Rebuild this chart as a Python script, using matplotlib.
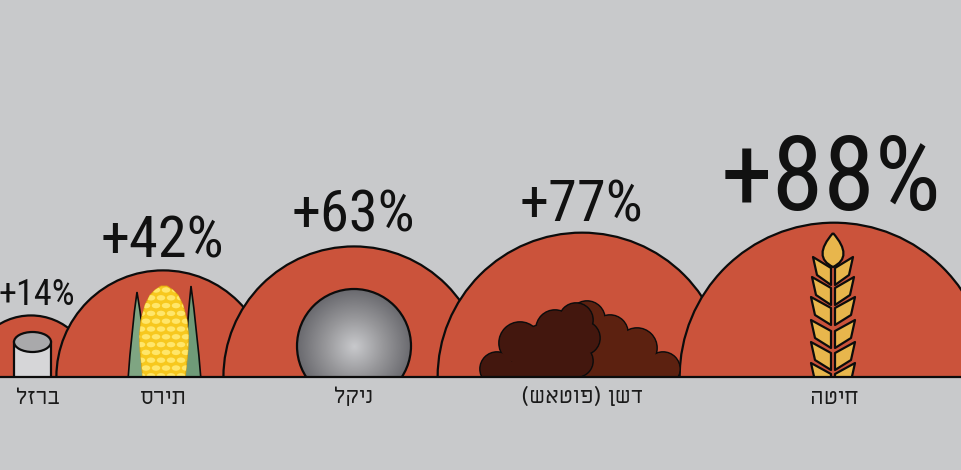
import numpy as np
import matplotlib
matplotlib.use('Agg')
import matplotlib.pyplot as plt
from matplotlib.colors import LinearSegmentedColormap
from matplotlib.patches import Circle, Ellipse, PathPatch, Polygon, Rectangle
from matplotlib.path import Path

plt.rcParams['font.family'] = ['Roboto Condensed', 'Liberation Sans', 'DejaVu Sans']

# data
names = ['ברזל', 'תירס', 'ניקל', 'דשן (פוטאש)', 'חיטה']
values = [14, 42, 63, 77, 88]
pct_labels = ['+14%', '+42%', '+63%', '+77%', '+88%']

BG = '#c8c9cb'
RED = '#cb533b'
K = '#0c0c0c'
BASE = 377
LW = 1.6

centers = [31, 163, 354, 582, 834]
pct_x = [37, 162, 353, 581, 831]
pct_y = [305, 258, 232, 222, 210]
pct_size = [26, 42, 42, 42, 75]
name_x = [38, 163, 354, 582, 834]

fig = plt.figure(figsize=(9.62, 4.7), dpi=100, facecolor=BG)
ax = fig.add_axes([0, 0, 1, 1])
ax.axis('off')

clip = Rectangle((0, 0), 962, BASE, transform=ax.transData)


def rtl(s):
    # matplotlib has no bidi, so flip to visual order
    s = s[::-1]
    return s.translate(str.maketrans('()', ')('))


def add(p):
    ax.add_patch(p)
    p.set_clip_path(clip)
    return p


# domes, area goes with the value
for v, cx in zip(values, centers):
    r = 16.45 * np.sqrt(v)
    add(Circle((cx, BASE), r, fc=RED, ec=K, lw=LW))

# iron
add(Rectangle((14, 342), 37, 40, fc='#d6d6d8', ec=K, lw=LW))
add(Ellipse((32.5, 342), 37, 20, fc='#a9a9ab', ec=K, lw=LW))


# corn
def leaf(tip, b1, b2, col):
    verts = [b1, ((b1[0] + tip[0]) / 2 - 1, 330), tip, ((b2[0] + tip[0]) / 2 + 1, 330), b2, b1]
    codes = [Path.MOVETO, Path.CURVE3, Path.CURVE3, Path.CURVE3, Path.CURVE3, Path.LINETO]
    add(PathPatch(Path(verts, codes), fc=col, ec=K, lw=1.2))


leaf((137, 292), (128, 380), (148, 380), '#7fa582')
leaf((191, 286), (184, 380), (201, 380), '#6f9a78')
cob_y = [286, 290, 295, 305, 320, 335, 350, 365, 380]
cob_w = [3, 9, 14, 19, 23, 24.5, 24, 22.5, 21]
cob_pts = [(164 - w, y) for w, y in zip(cob_w, cob_y)] + [(164 + w, y) for w, y in zip(cob_w[::-1], cob_y[::-1])]
cob_patch = add(Polygon(cob_pts, closed=True, fc='#f7c81e', ec='#e0a810', lw=0.6, zorder=2))
for row, y in enumerate(np.arange(290, 380, 7.8)):
    for x in np.arange(136 + (row % 2) * 5, 195, 10):
        k = add(Ellipse((x, y), 8.5, 5.4, fc='#ffe66a', ec='none', zorder=2))
        k.set_clip_path(cob_patch)

# nickel, radial shading
yy, xx = np.mgrid[289:404, 296:412]
rr = np.hypot(xx - 354, yy - 346) / 58
cm = LinearSegmentedColormap.from_list('nk', ['#c8c9cc', '#97979a', '#68686d'])
im = ax.imshow(rr, extent=(296, 412, 404, 289), cmap=cm, vmin=0, vmax=1, zorder=2, aspect='auto')
ax.set_xlim(0, 962)
ax.set_ylim(470, 0)
im.set_clip_path(Circle((354, 346), 57, transform=ax.transData))
add(Circle((354, 346), 57, fc='none', ec=K, lw=LW, zorder=3))


# potash, outline comes from drawing the circles twice
def pile(circles, box, col, z):
    for c in circles:
        add(Circle(c[:2], c[2], fc=col, ec=K, lw=1.3, zorder=z))
    add(Rectangle(box[:2], box[2], box[3], fc=col, ec='none', zorder=z))
    for c in circles:
        add(Circle(c[:2], c[2] - 0.6, fc=col, ec='none', zorder=z))


pile([(587, 319, 18), (610, 333, 18), (637, 348, 20), (663, 369, 17)], (585, 345, 70, 35), '#5c2110', 4)
pile([(497, 369, 17), (520, 343, 21), (555, 329, 19), (576, 320, 17), (583, 338, 17), (577, 361, 16), (545, 352, 28)],
     (490, 362, 90, 18), '#43170e', 4.1)


# wheat
GR = '#e8b64c'


def grain(side, tip_y, reach):
    pts = [(wx + side * reach, tip_y), (wx + side * 2, tip_y + 11), (wx + side * 2, tip_y + 28),
           (wx + side * (reach - 4), tip_y + 18)]
    add(Polygon(pts, closed=True, fc=GR, ec=K, lw=1.6, joinstyle='round', zorder=5))


wx = 833
for ty, reach in zip([257, 277, 297, 320, 342, 363], [20, 21, 22, 22, 22, 22]):
    grain(-1, ty, reach)
    grain(1, ty, reach)
tip = (wx, 233)
bot = (wx, 267)
add(PathPatch(Path([tip, (wx - 21, 257), bot, (wx + 21, 257), tip],
                   [Path.MOVETO, Path.CURVE3, Path.CURVE3, Path.CURVE3, Path.CURVE3]),
              fc=GR, ec=K, lw=1.6, zorder=5))

# area under the baseline and the line itself
ax.add_patch(Rectangle((0, BASE), 962, 93, fc=BG, ec='none', zorder=5.5))
ax.plot([0, 962], [BASE, BASE], color=K, lw=LW, zorder=6, solid_capstyle='butt')

# text
for x, y, s, fs in zip(pct_x, pct_y, pct_labels, pct_size):
    ax.text(x, y, s, ha='center', va='baseline', fontsize=fs, color='#111111', zorder=7, fontweight=400)
for x, s in zip(name_x, names):
    ax.text(x, 397, rtl(s), ha='center', va='center', fontsize=16.5, color='#1a1a1a', zorder=7,
            family=['Miriam Libre', 'Liberation Sans', 'DejaVu Sans'])

fig.savefig('out.png', dpi=100, facecolor=BG)
